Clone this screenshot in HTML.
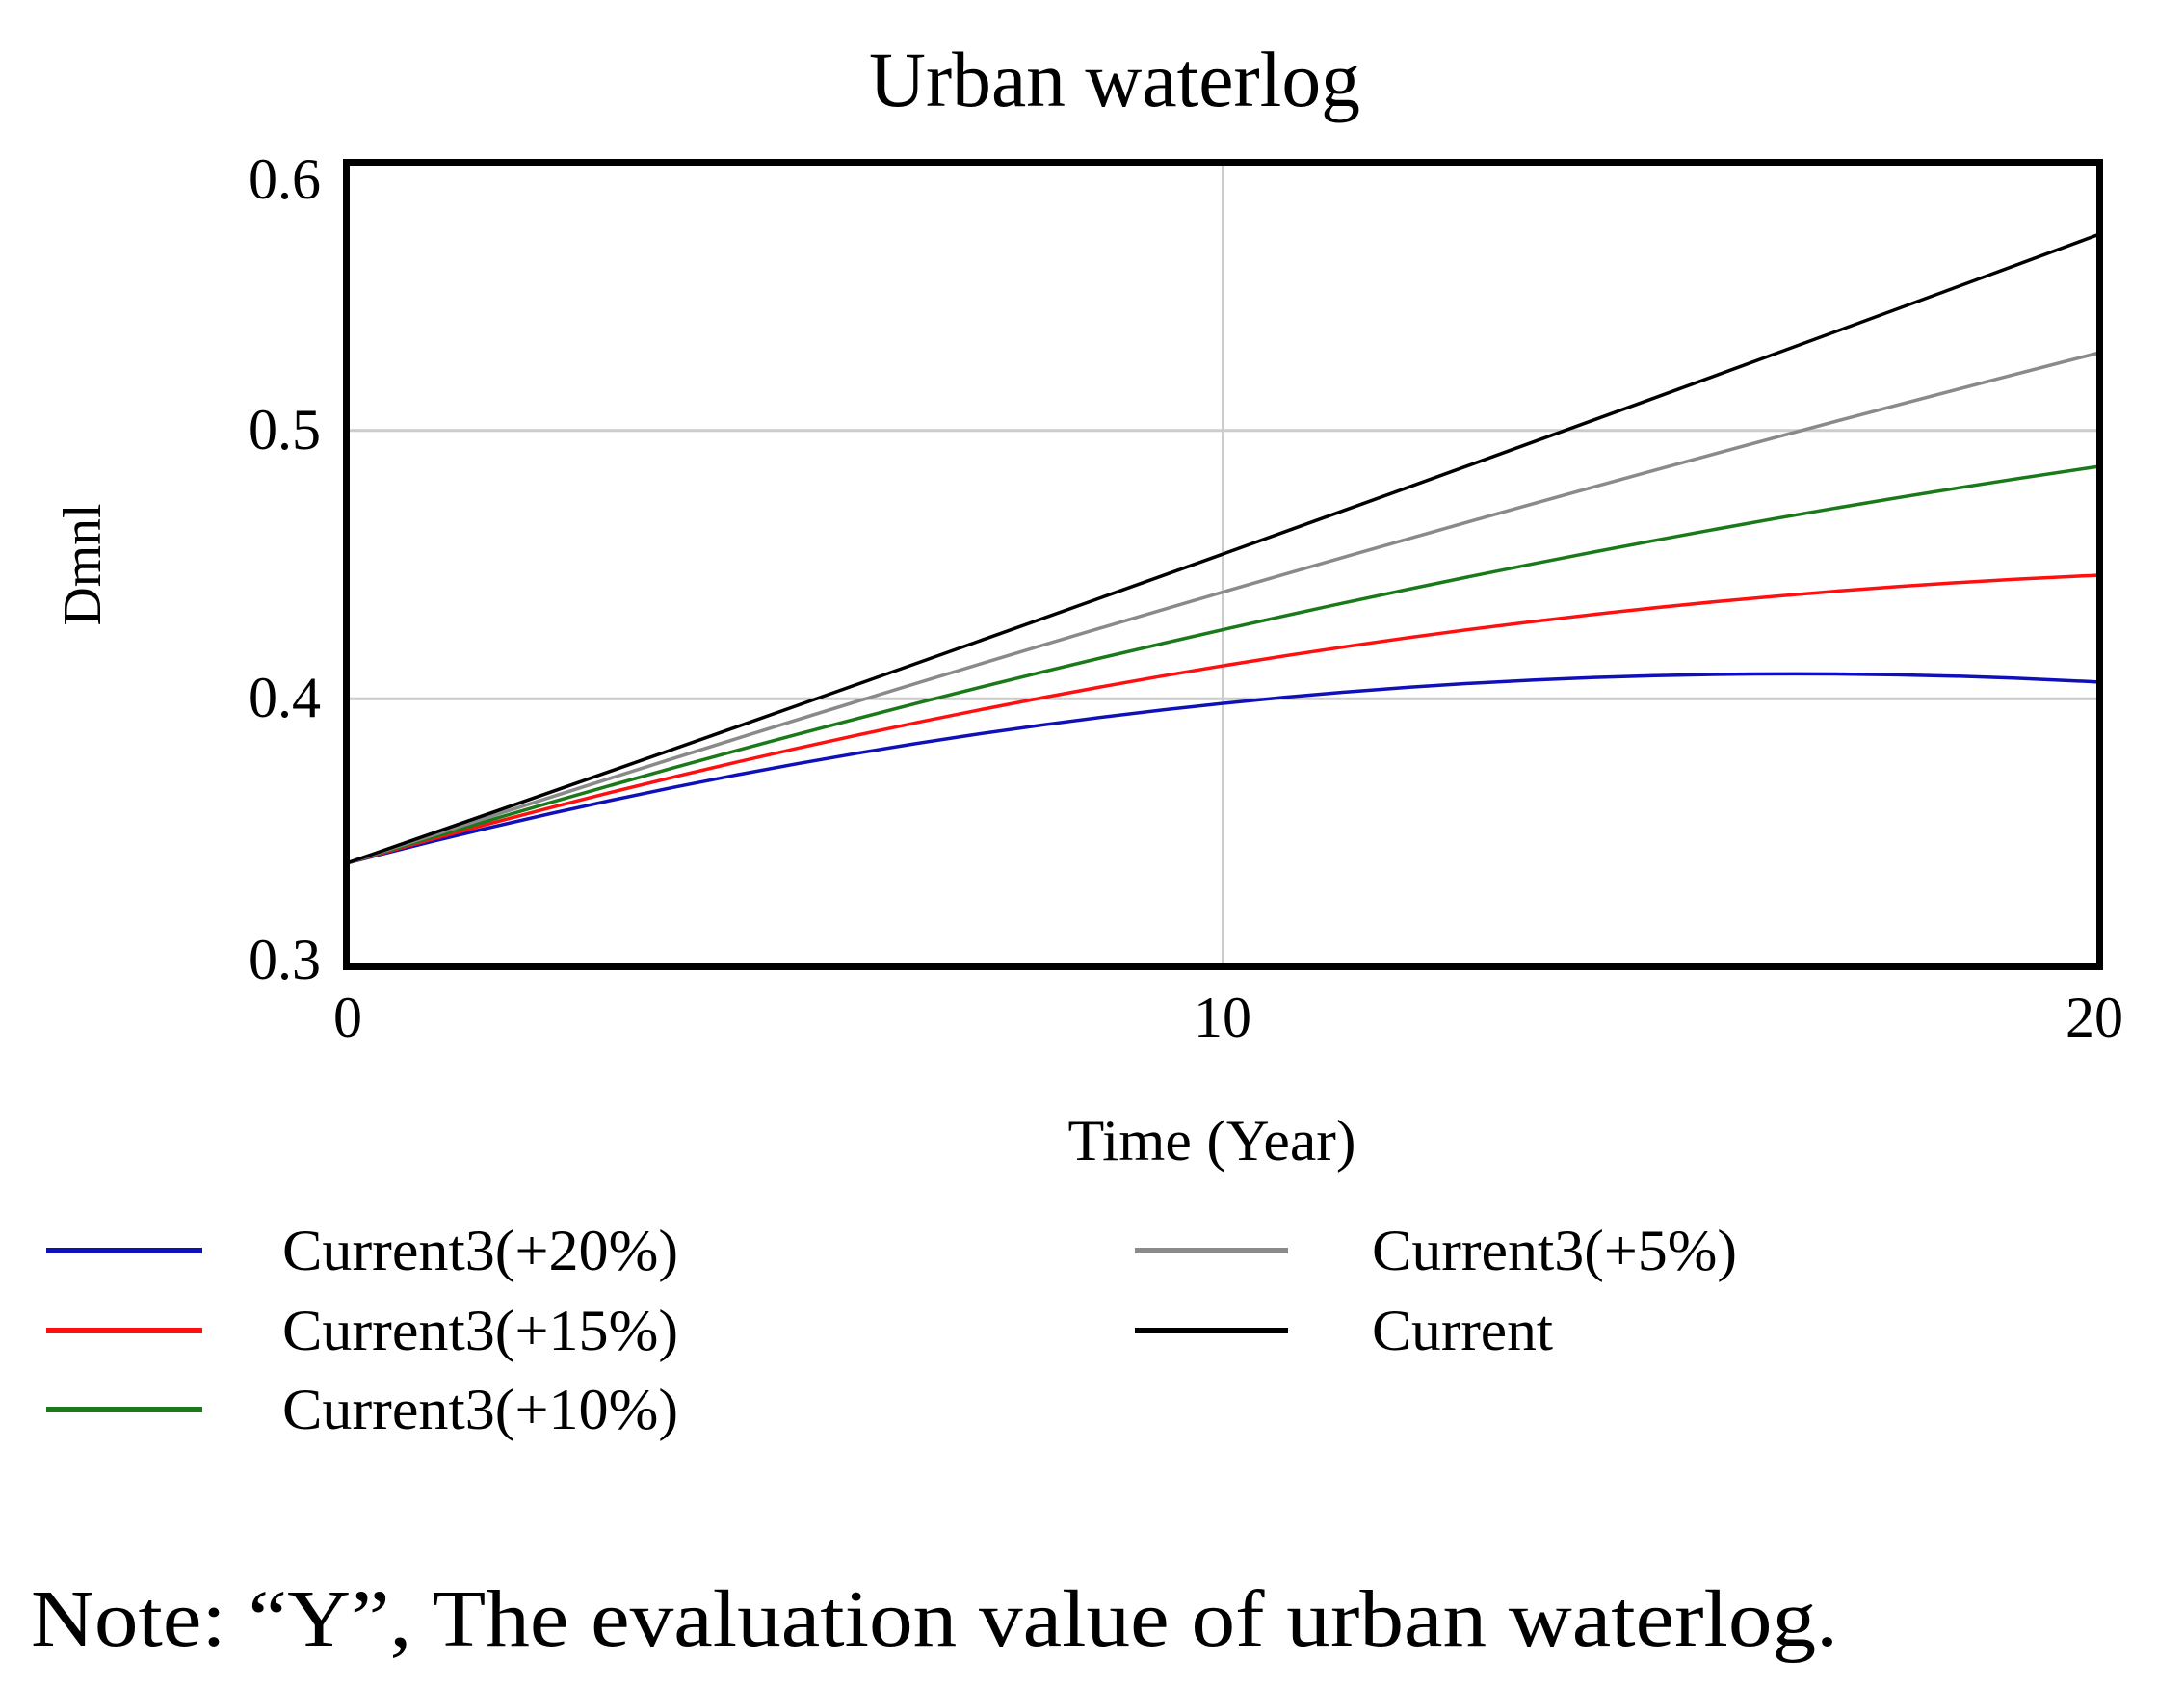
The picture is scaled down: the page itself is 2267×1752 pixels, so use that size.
<!DOCTYPE html>
<html><head><meta charset="utf-8"><style>
html,body{margin:0;padding:0;background:#fff;}
svg{display:block;}
text{font-family:"Liberation Serif",serif;fill:#000;}
</style></head><body>
<svg width="2267" height="1752" viewBox="0 0 2267 1752" xmlns="http://www.w3.org/2000/svg">
<rect width="2267" height="1752" fill="#fff"/>
<text x="1157" y="110" font-size="82" text-anchor="middle" textLength="510" lengthAdjust="spacingAndGlyphs">Urban waterlog</text>
<g stroke="#cccccc" stroke-width="3">
<line x1="359.5" y1="446.8" x2="2179.5" y2="446.8"/>
<line x1="359.5" y1="725.2" x2="2179.5" y2="725.2"/>
<line x1="1269.5" y1="168.5" x2="1269.5" y2="1003.5"/>
</g>
<g fill="none" stroke-width="3.5">
<path d="M359.5,896 Q1269.5,658 2179.5,708" stroke="#1010b8"/>
<path d="M359.5,896 Q1269.5,635.5 2179.5,597" stroke="#ff1010"/>
<path d="M359.5,896 Q1269.5,617 2179.5,484" stroke="#1a7a1a"/>
<path d="M359.5,896 Q1269.5,598 2179.5,366" stroke="#8a8a8a"/>
<path d="M359.5,896 Q1269.5,580.5 2179.5,243" stroke="#000"/>
</g>
<rect x="359.5" y="168.5" width="1820" height="835" fill="none" stroke="#000" stroke-width="7"/>
<g font-size="60" text-anchor="end">
<text x="333" y="206">0.6</text>
<text x="333" y="466">0.5</text>
<text x="333" y="744">0.4</text>
<text x="333" y="1016">0.3</text>
</g>
<g font-size="60" text-anchor="middle">
<text x="361" y="1076">0</text>
<text x="1269" y="1076">10</text>
<text x="2174" y="1076">20</text>
<text x="1258" y="1204" textLength="299" lengthAdjust="spacingAndGlyphs">Time (Year)</text>
</g>
<text transform="translate(104,586) rotate(-90)" font-size="56" text-anchor="middle" textLength="127" lengthAdjust="spacingAndGlyphs">Dmnl</text>
<g stroke-width="6">
<line x1="48" y1="1298" x2="210" y2="1298" stroke="#1010b8"/>
<line x1="48" y1="1381" x2="210" y2="1381" stroke="#ff1010"/>
<line x1="48" y1="1463" x2="210" y2="1463" stroke="#1a7a1a"/>
<line x1="1178" y1="1298" x2="1337" y2="1298" stroke="#8a8a8a"/>
<line x1="1178" y1="1381" x2="1337" y2="1381" stroke="#000"/>
</g>
<g font-size="60">
<text x="293" y="1318" textLength="411" lengthAdjust="spacingAndGlyphs">Current3(+20%)</text>
<text x="293" y="1401" textLength="411" lengthAdjust="spacingAndGlyphs">Current3(+15%)</text>
<text x="293" y="1483" textLength="411" lengthAdjust="spacingAndGlyphs">Current3(+10%)</text>
<text x="1424" y="1318" textLength="379" lengthAdjust="spacingAndGlyphs">Current3(+5%)</text>
<text x="1424" y="1401" textLength="188" lengthAdjust="spacingAndGlyphs">Current</text>
</g>
<text x="32" y="1708" font-size="84" textLength="1876" lengthAdjust="spacingAndGlyphs">Note: “Y”, The evaluation value of urban waterlog.</text>
</svg>
</body></html>
